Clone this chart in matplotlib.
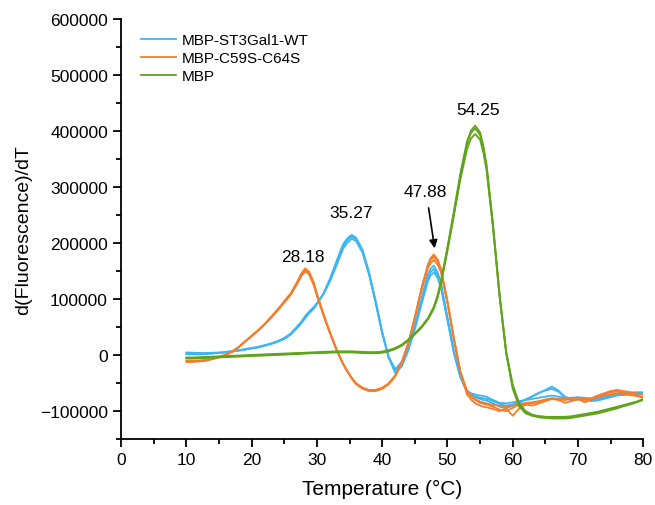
import matplotlib.pyplot as plt
from matplotlib.ticker import MultipleLocator

plt.rcParams['font.family'] = ['Liberation Sans', 'DejaVu Sans']

# temperature grid (°C)
temp = [10, 11, 12, 13, 14, 15, 16, 17, 18, 19, 20, 21, 22, 23, 24, 25, 26, 27,
        27.6, 28.2, 28.8, 29.5, 30, 31, 32, 33, 34, 34.6, 35.3,
        36, 37, 38, 39, 40, 41, 42, 43, 44, 45, 46,
        47, 47.4, 47.9, 48.5, 49, 50, 51, 52, 53, 53.6, 54.25, 55, 55.5,
        56, 57, 58, 59, 60, 61, 62, 63, 64, 65, 66, 67, 68, 69, 70, 71, 72, 73, 74, 75, 76, 77, 78, 79, 80]

# MBP-ST3Gal1-WT replicates
wt_1 = [5000, 4500, 4000, 4000, 4500, 5000, 6000, 7500, 9000, 11000, 13000, 15000, 18000, 21000, 25000, 30000, 38000, 50000,
        58000, 68000, 76000, 84000, 92000, 110000, 135000, 165000, 195000, 205000, 212000,
        207000, 185000, 145000, 95000, 40000, -5000, -27000, -15000, 12000, 50000, 95000,
        138000, 148000, 154000, 143000, 125000, 65000, 5000, -40000, -65000, -70000, -73000, -76000, -77000,
        -78000, -82000, -87000, -90000, -88000, -84000, -79000, -74000, -68000, -62000, -56000, -63000, -74000, -79000, -77000,
        -77000, -80000, -79000, -76000, -73000, -71000, -70000, -69000, -68000, -68000]
wt_2 = [2000, 1500, 1500, 2000, 3000, 4000, 5000, 6500, 8000, 10000, 12000, 14000, 17000, 20000, 24000, 29000, 37000, 49000,
        57000, 66000, 75000, 83000, 91000, 110000, 137000, 168000, 198000, 208000, 215000,
        210000, 188000, 148000, 97000, 42000, -5000, -32000, -20000, 8000, 46000, 90000,
        132000, 142000, 148000, 138000, 120000, 62000, 3000, -40000, -63000, -68000, -70000, -72000, -73000,
        -74000, -80000, -85000, -86000, -84000, -82000, -80000, -78000, -76000, -74000, -72000, -74000, -76000, -76000, -75000,
        -76000, -78000, -77000, -74000, -71000, -69000, -68000, -67000, -66000, -66000]
wt_3 = [4000, 3500, 3000, 3000, 3500, 4000, 5000, 6500, 8500, 10500, 12500, 14500, 17500, 21000, 25000, 31000, 39000, 52000,
        60000, 70000, 78000, 86000, 93000, 109000, 132000, 160000, 190000, 200000, 208000,
        204000, 183000, 143000, 93000, 39000, -3000, -25000, -12000, 15000, 54000, 100000,
        144000, 154000, 160000, 148000, 130000, 68000, 7000, -38000, -66000, -71000, -75000, -78000, -80000,
        -81000, -86000, -92000, -95000, -90000, -85000, -79000, -73000, -67000, -63000, -60000, -65000, -75000, -81000, -79000,
        -79000, -82000, -81000, -78000, -75000, -72000, -71000, -70000, -70000, -69000]

# MBP-C59S-C64S replicates
mut_1 = [-12000, -12000, -11000, -10000, -7000, -4000, 0, 6000, 14000, 24000, 34000, 44000, 55000, 67000, 80000, 94000, 108000, 128000,
         142000, 152000, 146000, 128000, 108000, 72000, 40000, 10000, -15000, -27000, -40000,
         -50000, -58000, -62000, -62000, -58000, -50000, -36000, -12000, 22000, 68000, 118000,
         160000, 170000, 176000, 168000, 152000, 95000, 28000, -30000, -65000, -74000, -80000, -85000, -86500,
         -88000, -92000, -97000, -100000, -94000, -88000, -85000, -84000, -82000, -79000, -77000, -79000, -80000, -78000, -78000,
         -84000, -80000, -75000, -70000, -66000, -65000, -67000, -70000, -72000, -74000]
mut_2 = [-11000, -11000, -10000, -9000, -6000, -3000, 1000, 7000, 15000, 25000, 35000, 45000, 56000, 69000, 82000, 97000, 111000, 132000,
         146000, 155000, 149000, 131000, 110000, 74000, 41000, 11000, -15000, -28000, -41000,
         -52000, -60000, -64000, -64000, -60000, -52000, -38000, -14000, 20000, 66000, 118000,
         162000, 173000, 180000, 171000, 155000, 97000, 30000, -32000, -70000, -79000, -86000, -90000, -92000,
         -93000, -96000, -100000, -95000, -108000, -95000, -88000, -86000, -83000, -80000, -77000, -78000, -78000, -77000, -76000,
         -78000, -77000, -72000, -68000, -64000, -62000, -64000, -66000, -68000, -70000]
mut_3 = [-10000, -10000, -9500, -8500, -6500, -3500, 500, 6500, 14500, 24500, 34500, 44500, 55500, 68000, 81000, 95000, 110000, 129000,
         141000, 150000, 144000, 125000, 106000, 71000, 39000, 9000, -16000, -28000, -40000,
         -51000, -59000, -63000, -63000, -59000, -51000, -37000, -13000, 21000, 67000, 115000,
         155000, 164000, 170000, 162000, 148000, 93000, 27000, -30000, -64000, -72000, -78000, -83000, -84500,
         -86000, -89000, -90000, -92000, -90000, -88000, -88000, -90000, -86000, -82000, -78000, -80000, -85000, -82000, -79000,
         -80000, -78000, -74000, -72000, -70000, -68000, -69000, -71000, -73000, -76000]

# MBP replicates
mbp_1 = [-5000, -5000, -4500, -4000, -3500, -3000, -2500, -2000, -1500, -1000, -500, 0, 500, 1000, 1500, 2000, 2500, 3000,
         3200, 3500, 3800, 4200, 4500, 5000, 5500, 6000, 6000, 6000, 6000,
         5500, 5000, 4500, 4500, 5500, 8000, 12000, 18000, 27000, 38000, 50000,
         65000, 73000, 85000, 105000, 130000, 190000, 255000, 322000, 378000, 397000, 405000, 393000, 370000,
         335000, 228000, 105000, 5000, -55000, -88000, -102000, -108000, -111000, -112000, -113000, -113000, -113000, -112000, -110000,
         -108000, -106000, -104000, -101000, -98000, -95000, -91000, -88000, -84000, -80000]
mbp_2 = [-6000, -6000, -5500, -5000, -4500, -4000, -3500, -3000, -2500, -2000, -1500, -1000, -500, 0, 500, 1000, 1500, 2000,
         2700, 3000, 3300, 3700, 3500, 4000, 4500, 5000, 5000, 5000, 5000,
         4500, 4000, 3500, 3500, 4500, 7000, 11000, 17000, 26000, 37000, 49000,
         64000, 72000, 83000, 103000, 127000, 186000, 250000, 315000, 368000, 387000, 395000, 385000, 362000,
         330000, 225000, 103000, 3000, -60000, -92000, -104000, -108000, -109000, -110000, -110000, -110000, -110000, -109000, -107000,
         -105000, -103000, -101000, -98000, -95000, -92000, -89000, -86000, -83000, -79000]
mbp_3 = [-4000, -4000, -3500, -3000, -2500, -2000, -1500, -1000, -500, 0, 500, 1000, 1500, 2000, 2500, 3000, 3500, 4000,
         4200, 4500, 4800, 5200, 5500, 6000, 6500, 7000, 7000, 7000, 7000,
         6500, 6000, 5500, 5500, 6500, 9000, 13000, 19000, 28000, 39000, 51000,
         66000, 75000, 86000, 108000, 132000, 193000, 258000, 326000, 382000, 401000, 410000, 398000, 374000,
         340000, 232000, 108000, 7000, -53000, -86000, -100000, -106000, -109000, -110000, -111000, -111000, -111000, -110000, -108000,
         -106000, -104000, -102000, -99000, -96000, -93000, -90000, -86000, -83000, -78000]

groups = {
    'MBP-ST3Gal1-WT': ([wt_1, wt_2, wt_3], '#3db5f5'),
    'MBP-C59S-C64S': ([mut_1, mut_2, mut_3], '#f47d2c'),
    'MBP': ([mbp_1, mbp_2, mbp_3], '#62a31e'),
}

fig = plt.figure(figsize=(6.55, 5.06), dpi=100)
ax = fig.add_axes([0.185, 0.130, 0.797, 0.830])

for name, (reps, col) in groups.items():
    for i, r in enumerate(reps):
        ax.plot(temp, r, color=col, lw=1.3, label=name if i == 0 else None)

ax.set_xlim(0, 80)
ax.set_ylim(-150000, 600000)
ax.xaxis.set_major_locator(MultipleLocator(10))
ax.xaxis.set_minor_locator(MultipleLocator(5))
ax.yaxis.set_minor_locator(MultipleLocator(50000))
ax.set_yticks(range(-100000, 600001, 100000))
ax.spines['top'].set_visible(False)
ax.spines['right'].set_visible(False)
for s in ['left', 'bottom']:
    ax.spines[s].set_linewidth(1.3)
ax.tick_params(which='major', direction='out', length=6, width=1.3, labelsize=12.5)
ax.tick_params(which='minor', direction='out', length=3.5, width=1.3)
ax.set_xlabel('Temperature (°C)', fontsize=15, labelpad=8)
ax.set_ylabel('d(Fluorescence)/dT', fontsize=14, labelpad=6)

ax.text(27.9, 177000, '28.18', ha='center', va='center', fontsize=12.5)
ax.text(35.3, 255000, '35.27', ha='center', va='center', fontsize=12.5)
ax.text(46.6, 293000, '47.88', ha='center', va='center', fontsize=12.5)
ax.text(54.7, 439000, '54.25', ha='center', va='center', fontsize=12.5)
ax.annotate('', xy=(48.1, 186000), xytext=(47.05, 268000),
            arrowprops=dict(arrowstyle='-|>', color='black', lw=1.2, mutation_scale=12))

ax.legend(loc='upper left', bbox_to_anchor=(0.02, 0.988), frameon=False, fontsize=11,
          handlelength=2.3, handletextpad=0.4, labelspacing=0.25, borderaxespad=0.2)

fig.savefig('out.png', dpi=100)
